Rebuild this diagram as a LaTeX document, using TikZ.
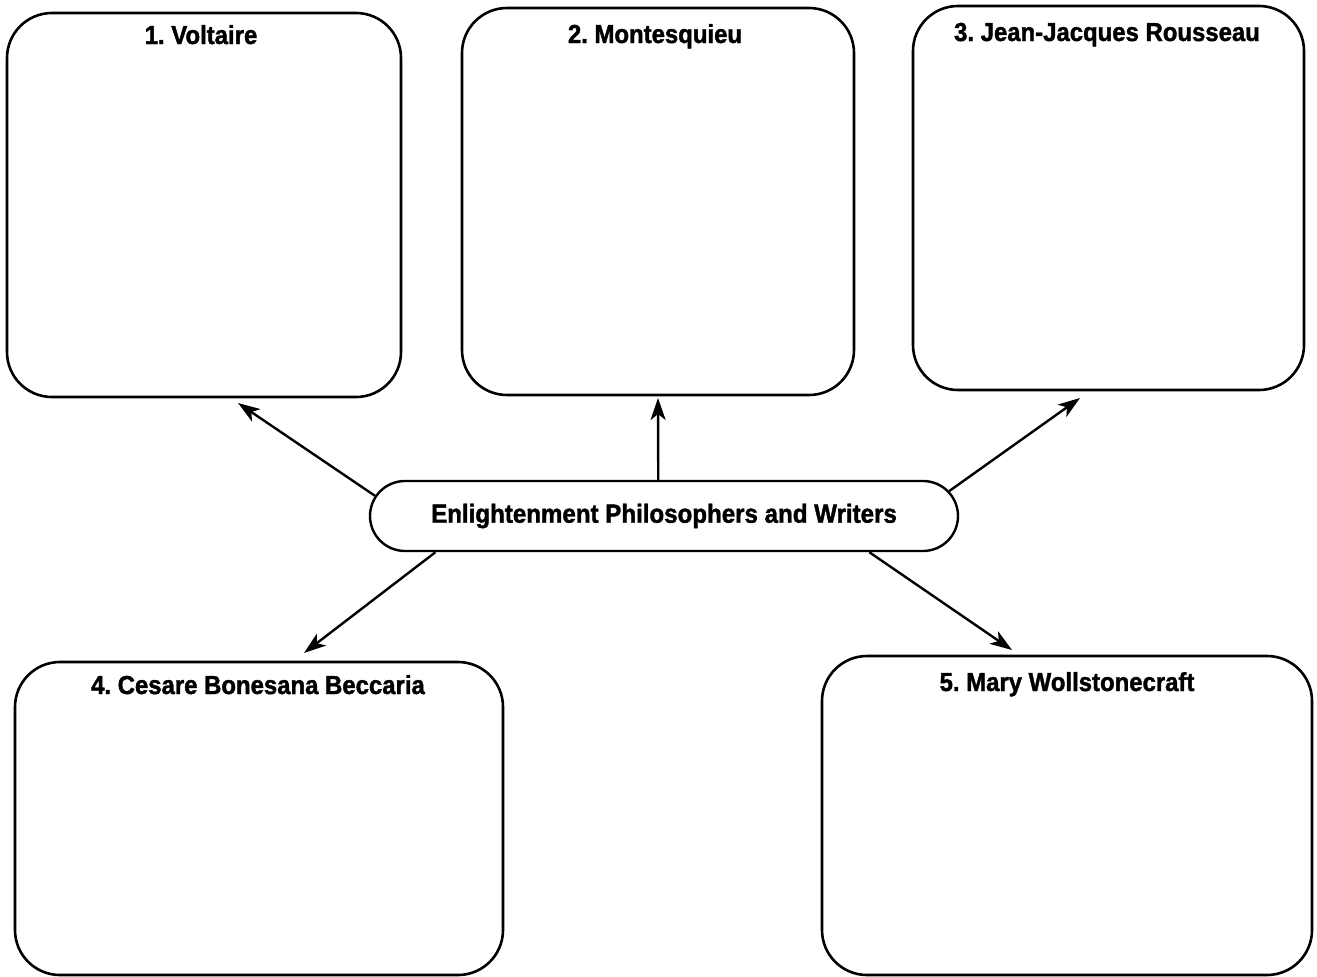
\documentclass[tikz,border=0pt]{standalone}
\usepackage{fontspec}
\setmainfont{Liberation Sans}
\newfontfamily\headfont{Liberation Sans}[FakeStretch=0.92,BoldFeatures={FakeBold=1.5}]
\usetikzlibrary{shapes.misc,arrows.meta}
\frenchspacing
\begin{document}
\begin{tikzpicture}[x=1pt,y=-1pt,
  box/.style={draw,line width=2.6pt,rounded corners=45pt,inner sep=0pt},
  hub/.style={draw,line width=2.4pt,rounded rectangle,minimum width=588pt,minimum height=70pt,inner sep=0pt,font=\headfont\fontsize{26.2}{30}\selectfont\bfseries},
  head/.style={anchor=base,inner sep=0pt,font=\headfont\fontsize{26}{30}\selectfont\bfseries},
  arr/.style={line width=2.4pt,-{Stealth[length=22pt,width=15pt,inset=6pt]}}]
\useasboundingbox (0,0) rectangle (1317,977);
% boxes
\node[box,minimum width=394pt,minimum height=384pt] (b1) at (204,205) {};
\node[box,minimum width=392pt,minimum height=387pt] (b2) at (658,201.5) {};
\node[box,minimum width=391pt,minimum height=384pt] (b3) at (1108.5,198) {};
\node[box,minimum width=488pt,minimum height=313pt] (b4) at (259,818.5) {};
\node[box,minimum width=490pt,minimum height=319pt] (b5) at (1067,815.5) {};
% headings
\node[head] (h1) at (201,44) {1. Voltaire};
\node[head] (h2) at (655,43) {2. Montesquieu};
\node[head] (h3) at (1107,41) {3. Jean-Jacques Rousseau};
\node[head] (h4) at (258,694) {4. Cesare Bonesana Beccaria};
\node[head] (h5) at (1067,691) {5. Mary Wollstonecraft};
% hub
\node[hub] (c) at (664,516) {Enlightenment Philosophers and Writers};
% arrow tips
\coordinate (t1) at (238,403);
\coordinate (t2) at (658,398);
\coordinate (t3) at (1080,398);
\coordinate (t4) at (304,653);
\coordinate (t5) at (1012,650);
\draw[arr] (c.176.2) -- (t1);
\draw[arr] (c.99.7) -- (t2);
\draw[arr] (c.5.2) -- (t3);
\draw[arr] (c.189.1) -- (t4);
\draw[arr] (c.350.4) -- (t5);
\end{tikzpicture}
\end{document}
